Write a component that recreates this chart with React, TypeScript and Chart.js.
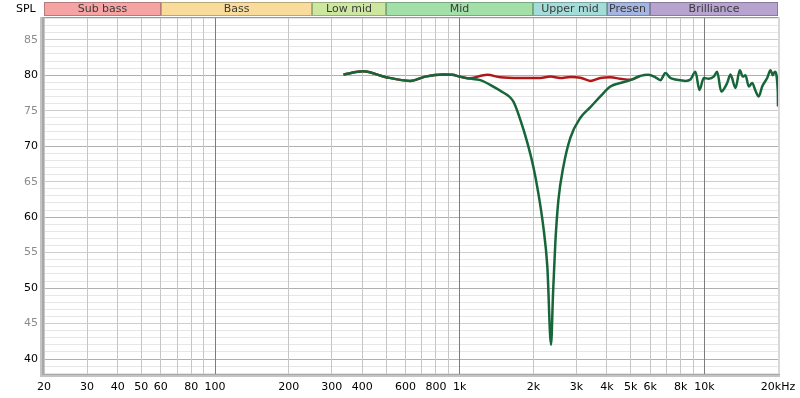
import React, { useEffect, useRef } from 'react';
import { Chart, registerables } from 'chart.js';

Chart.register(...registerables);

// Green (measured response with notch)
const greenFreq = [335, 403, 496, 628, 723, 857, 932, 1000, 1084, 1214, 1372, 1466, 1656, 1770, 1890, 2000, 2096, 2198, 2282, 2362, 2408, 2460, 2532, 2653, 2835, 3114, 3422, 3758, 4130, 4538, 4986, 5478, 5906, 6310, 6612, 6934, 7268, 7617, 7983, 8368, 8771, 9194, 9550, 9946, 10423, 10928, 11282, 11720, 12396, 12788, 13406, 13962, 14356, 14728, 15192, 15686, 16182, 16692, 17236, 18064, 18634, 19042, 19406, 19964, 20000];
const greenSpl = [80.1, 80.55, 79.75, 79.2, 79.8, 80.1, 80.05, 79.8, 79.55, 79.3, 78.4, 77.8, 76.3, 73.7, 70.5, 67.1, 63.4, 58.6, 53.0, 42.0, 49.3, 56.4, 62.4, 67.1, 71.2, 74.0, 75.5, 77.0, 78.4, 78.9, 79.3, 79.9, 80.05, 79.7, 79.3, 80.3, 79.6, 79.4, 79.3, 79.2, 79.4, 80.5, 77.9, 79.6, 79.5, 79.8, 80.5, 77.7, 78.9, 80.1, 78.2, 80.7, 79.8, 80.0, 78.4, 78.9, 77.8, 77.0, 78.4, 79.6, 80.7, 80.0, 80.5, 77.7, 75.6];

// Red (reference response)
const redFreq = [335, 403, 496, 628, 723, 857, 932, 1000, 1084, 1297, 1466, 1770, 2136, 2347, 2578, 2835, 3114, 3422, 3758, 4130, 4538, 4986, 5478];
const redSpl = [80.1, 80.55, 79.75, 79.2, 79.8, 80.1, 80.05, 79.8, 79.55, 80.05, 79.7, 79.6, 79.6, 79.8, 79.6, 79.75, 79.65, 79.2, 79.6, 79.7, 79.5, 79.35, 79.9];

// Axis ticks
const xGridValues = [20, 30, 40, 50, 60, 70, 80, 90, 100, 200, 300, 400, 500, 600, 700, 800, 900, 1000, 2000, 3000, 4000, 5000, 6000, 7000, 8000, 9000, 10000, 20000];
const xDecadeValues = [100, 1000, 10000];
const xLabelValues = [20, 30, 40, 50, 60, 80, 100, 200, 300, 400, 600, 800, 1000, 2000, 3000, 4000, 5000, 6000, 8000, 10000, 20000];
const xLabelTexts = ['20', '30', '40', '50', '60', '80', '100', '200', '300', '400', '600', '800', '1k', '2k', '3k', '4k', '5k', '6k', '8k', '10k', '20kHz'];
const yGridValues = [38, 39, 40, 41, 42, 43, 44, 45, 46, 47, 48, 49, 50, 51, 52, 53, 54, 55, 56, 57, 58, 59, 60, 61, 62, 63, 64, 65, 66, 67, 68, 69, 70, 71, 72, 73, 74, 75, 76, 77, 78, 79, 80, 81, 82, 83, 84, 85, 86, 87, 88];
const yLabelValues = [40, 45, 50, 55, 60, 65, 70, 75, 80, 85];

// Frequency bands
const bandNames = ['Sub bass', 'Bass', 'Low mid', 'Mid', 'Upper mid', 'Presence', 'Brilliance'];
const bandStarts = [20, 60, 250, 500, 2000, 4000, 6000];
const bandEnds = [60, 250, 500, 2000, 4000, 6000, 20000];
const bandColors = ['#f5a3a3', '#f9dc9b', '#cde7a0', '#a3e0a8', '#a3dcd8', '#a3b5e0', '#b7a3cf'];

const FONT = '"DejaVu Sans", sans-serif';

const decorPlugin = {
  id: 'decor',
  beforeDraw(chart: any) {
    const ctx = chart.ctx;
    ctx.save();
    ctx.fillStyle = '#ffffff';
    ctx.fillRect(0, 0, chart.width, chart.height);
    ctx.restore();
  },
  afterDraw(chart: any) {
    const ctx = chart.ctx;
    const { left, right, top, bottom } = chart.chartArea;
    const x = chart.scales.x;
    ctx.save();
    // band bar
    const by = 2;
    const bh = 14;
    ctx.font = '11px ' + FONT;
    ctx.textBaseline = 'middle';
    for (let i = 0; i < bandNames.length; i++) {
      const x0 = Math.round(x.getPixelForValue(bandStarts[i]));
      const x1 = Math.round(x.getPixelForValue(bandEnds[i]));
      ctx.fillStyle = bandColors[i];
      ctx.fillRect(x0, by, x1 - x0, bh);
      ctx.strokeStyle = 'rgba(0,0,0,0.25)';
      ctx.lineWidth = 1;
      ctx.strokeRect(x0 + 0.5, by + 0.5, x1 - x0 - 1, bh - 1);
      ctx.fillStyle = '#3a3a3a';
      let txt = bandNames[i];
      const avail = x1 - x0 - 4;
      if (ctx.measureText(txt).width <= avail) {
        ctx.textAlign = 'center';
        ctx.fillText(txt, (x0 + x1) / 2, by + bh / 2 + 0.5);
      } else {
        while (txt.length > 1 && ctx.measureText(txt).width > avail) txt = txt.slice(0, -1);
        ctx.textAlign = 'left';
        ctx.fillText(txt, x0 + 2, by + bh / 2 + 0.5);
      }
    }
    // SPL label
    ctx.fillStyle = '#000';
    ctx.textAlign = 'left';
    ctx.font = '11px ' + FONT;
    ctx.fillText('SPL', 16, 9);
    // sunken frame
    ctx.fillStyle = '#c4c4c4';
    ctx.fillRect(left - 4, top, 4, bottom - top + 3);
    ctx.fillStyle = '#a8a8a8';
    ctx.fillRect(left - 2, top, 2, bottom - top + 1);
    ctx.fillStyle = '#c4c4c4';
    ctx.fillRect(left - 4, bottom, right - left + 6, 3);
    ctx.fillStyle = '#a8a8a8';
    ctx.fillRect(left - 2, bottom, right - left + 4, 1);
    ctx.fillStyle = '#9a9a9a';
    ctx.fillRect(left, top, right - left, 1);
    ctx.fillStyle = '#d8d8d8';
    ctx.fillRect(right, top, 2, bottom - top);
    ctx.restore();
  },
};

export default function App() {
  const ref = useRef<HTMLCanvasElement | null>(null);
  useEffect(() => {
    document.body.style.margin = '0';
    const canvas = ref.current!;
    const chart = new Chart(canvas, {
      type: 'line',
      data: {
        datasets: [
          {
            label: 'green',
            data: greenFreq.map((f, i) => ({ x: f, y: greenSpl[i] })),
            borderColor: '#17663a',
            borderWidth: 2.5,
            pointRadius: 0,
            cubicInterpolationMode: 'monotone',
            fill: false,
          },
          {
            label: 'red',
            data: redFreq.map((f, i) => ({ x: f, y: redSpl[i] })),
            borderColor: '#b01818',
            borderWidth: 2.5,
            pointRadius: 0,
            cubicInterpolationMode: 'monotone',
            fill: false,
          },
        ],
      },
      options: {
        animation: false,
        responsive: false,
        maintainAspectRatio: false,
        devicePixelRatio: 1,
        layout: { padding: { top: 17, right: 22, left: 0, bottom: 0 } },
        plugins: { legend: { display: false }, tooltip: { enabled: false } },
        scales: {
          x: {
            type: 'logarithmic',
            min: 20,
            max: 20000,
            afterBuildTicks: (s: any) => {
              s.ticks = xGridValues.map((v) => ({ value: v }));
            },
            afterFit: (s: any) => {
              s.height = 24;
              s.paddingLeft = 0;
              s.paddingRight = 0;
            },
            border: { display: false },
            grid: {
              drawTicks: false,
              lineWidth: 1,
              z: 0,
              color: (c: any) => (xDecadeValues.includes(c.tick?.value) ? '#7c7c7c' : '#c6c6c6'),
            },
            ticks: {
              autoSkip: false,
              maxRotation: 0,
              minRotation: 0,
              padding: 7,
              color: '#000',
              font: { family: FONT, size: 11 },
              callback: (v: any) => {
                const i = xLabelValues.indexOf(Number(v));
                return i >= 0 ? xLabelTexts[i] : '';
              },
            },
          },
          y: {
            type: 'linear',
            min: 37.9,
            max: 88.2,
            afterBuildTicks: (s: any) => {
              s.ticks = yGridValues.map((v) => ({ value: v }));
            },
            afterFit: (s: any) => {
              s.width = 44;
              s.paddingTop = 0;
              s.paddingBottom = 0;
            },
            border: { display: false },
            grid: {
              drawTicks: false,
              lineWidth: 1,
              z: -1,
              color: (c: any) => {
                const v = c.tick?.value;
                if (v % 10 === 0) return '#b0b0b0';
                if (v % 5 === 0) return '#cdcdcd';
                return '#e6e6e6';
              },
            },
            ticks: {
              autoSkip: false,
              padding: 6,
              font: { family: FONT, size: 11 },
              color: (c: any) => (c.tick?.value % 10 === 0 ? '#000000' : '#8c8c8c'),
              callback: (v: any) => (yLabelValues.includes(Number(v)) ? String(v) : ''),
            },
          },
        },
      },
      plugins: [decorPlugin],
    } as any);
    return () => chart.destroy();
  }, []);
  return <canvas ref={ref} width={800} height={398} style={{ display: 'block', width: 800, height: 398 }} />;
}
